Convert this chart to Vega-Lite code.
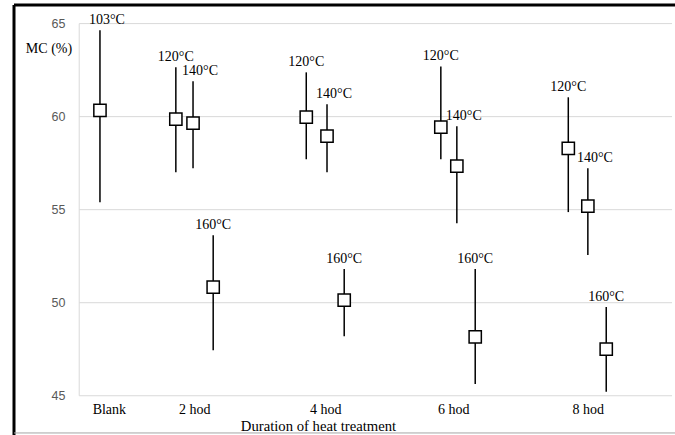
{
  "$schema": "https://vega.github.io/schema/vega-lite/v6.json",
  "width": 661,
  "height": 430,
  "autosize": {"type": "none"},
  "padding": {"left": 14, "top": 5, "right": 0, "bottom": 0},
  "background": "white",
  "config": {"view": {"stroke": null}},
  "datasets": {
    "mc": [
      {"duration": "Blank", "temp": "103°C", "pos": 0.35, "mean": 60.34, "lo": 55.40, "hi": 64.64},
      {"duration": "2 hod", "temp": "120°C", "pos": 1.63, "mean": 59.86, "lo": 57.01, "hi": 62.65},
      {"duration": "2 hod", "temp": "140°C", "pos": 1.92, "mean": 59.65, "lo": 57.23, "hi": 61.90},
      {"duration": "2 hod", "temp": "160°C", "pos": 2.26, "mean": 50.84, "lo": 47.45, "hi": 53.63},
      {"duration": "4 hod", "temp": "120°C", "pos": 3.83, "mean": 59.97, "lo": 57.71, "hi": 62.38},
      {"duration": "4 hod", "temp": "140°C", "pos": 4.18, "mean": 58.95, "lo": 57.01, "hi": 60.67},
      {"duration": "4 hod", "temp": "160°C", "pos": 4.47, "mean": 50.14, "lo": 48.20, "hi": 51.81},
      {"duration": "6 hod", "temp": "120°C", "pos": 6.10, "mean": 59.43, "lo": 57.71, "hi": 62.70},
      {"duration": "6 hod", "temp": "140°C", "pos": 6.37, "mean": 57.34, "lo": 54.27, "hi": 59.48},
      {"duration": "6 hod", "temp": "160°C", "pos": 6.68, "mean": 48.16, "lo": 45.63, "hi": 51.81},
      {"duration": "8 hod", "temp": "120°C", "pos": 8.25, "mean": 58.30, "lo": 54.87, "hi": 61.04},
      {"duration": "8 hod", "temp": "140°C", "pos": 8.58, "mean": 55.19, "lo": 52.56, "hi": 57.23},
      {"duration": "8 hod", "temp": "160°C", "pos": 8.89, "mean": 47.51, "lo": 45.21, "hi": 49.77}
    ],
    "grid": [{"g": 45}, {"g": 50}, {"g": 55}, {"g": 60}, {"g": 65}]
  },
  "layer": [
    {
      "data": {"name": "grid"},
      "mark": {"type": "rule", "color": "#d9d9d9", "strokeWidth": 1},
      "encoding": {
        "y": {
          "field": "g", "type": "quantitative",
          "scale": {"domain": [42.89, 66], "nice": false, "zero": false},
          "axis": {
            "orient": "left", "offset": -65,
            "values": [45, 50, 55, 60, 65],
            "domain": false, "ticks": false, "grid": false,
            "labelPadding": 14,
            "labelFont": "Liberation Sans", "labelFontSize": 12.5, "labelColor": "#595959",
            "title": "MC (%)", "titleAngle": 0,
            "titleFont": "Liberation Serif", "titleFontSize": 14, "titleFontWeight": "normal", "titleColor": "black",
            "titleX": -30.5, "titleY": 43, "titleAlign": "center", "titleBaseline": "middle"
          }
        },
        "x": {
          "datum": 0, "type": "quantitative",
          "scale": {"domain": [-1.1, 10.05], "nice": false, "zero": false},
          "axis": {
            "orient": "bottom", "offset": -39,
            "values": [0.5, 1.94, 4.15, 6.31, 8.58],
            "labelExpr": "datum.value < 1 ? 'Blank' : datum.value < 3 ? '2 hod' : datum.value < 5 ? '4 hod' : datum.value < 7 ? '6 hod' : '8 hod'",
            "domain": false, "ticks": false, "grid": false,
            "labelFlush": false, "labelOverlap": false,
            "labelFont": "Liberation Serif", "labelFontSize": 14, "labelColor": "black",
            "labelPadding": 6,
            "title": "Duration of heat treatment",
            "titleFont": "Liberation Serif", "titleFontSize": 14.7, "titleFontWeight": "normal", "titleColor": "black",
            "titleX": 304, "titleY": 34, "titleAlign": "center", "titleBaseline": "alphabetic"
          }
        },
        "x2": {"datum": 10}
      }
    },
    {
      "data": {"values": [{}]},
      "mark": {"type": "rule", "color": "#d9d9d9", "strokeWidth": 1},
      "encoding": {
        "x": {"datum": 0, "type": "quantitative"},
        "y": {"datum": 45, "type": "quantitative"},
        "y2": {"datum": 65}
      }
    },
    {
      "data": {"values": [{}]},
      "mark": {"type": "rule", "color": "black", "strokeWidth": 3},
      "encoding": {
        "y": {"datum": 66, "type": "quantitative"},
        "x": {"datum": -1.1, "type": "quantitative"},
        "x2": {"datum": 10.05}
      }
    },
    {
      "data": {"values": [{}]},
      "mark": {"type": "rule", "color": "black", "strokeWidth": 3},
      "encoding": {
        "x": {"datum": -1.1, "type": "quantitative"},
        "y": {"datum": 42.89, "type": "quantitative"},
        "y2": {"datum": 66}
      }
    },
    {
      "data": {"values": [{}]},
      "mark": {"type": "rule", "color": "#a6a6a6", "strokeWidth": 1},
      "encoding": {
        "y": {"datum": 43, "type": "quantitative"},
        "x": {"datum": -1.1, "type": "quantitative"},
        "x2": {"datum": 10.05}
      }
    },
    {
      "data": {"name": "mc"},
      "mark": {"type": "rule", "color": "black", "strokeWidth": 1.5},
      "encoding": {
        "x": {"field": "pos", "type": "quantitative"},
        "y": {"field": "lo", "type": "quantitative"},
        "y2": {"field": "hi"}
      }
    },
    {
      "data": {"name": "mc"},
      "mark": {"type": "point", "shape": "square", "filled": true, "fill": "white", "stroke": "black", "strokeWidth": 1.5, "size": 150, "opacity": 1},
      "encoding": {
        "x": {"field": "pos", "type": "quantitative"},
        "y": {"field": "mean", "type": "quantitative"}
      }
    },
    {
      "data": {"name": "mc"},
      "transform": [{"filter": "datum.temp == '120°C' || datum.temp == '160°C'"}],
      "mark": {"type": "text", "font": "Liberation Serif", "fontSize": 14, "color": "black", "align": "center", "baseline": "alphabetic", "dy": -6},
      "encoding": {
        "x": {"field": "pos", "type": "quantitative"},
        "y": {"field": "hi", "type": "quantitative"},
        "text": {"field": "temp"}
      }
    },
    {
      "data": {"name": "mc"},
      "transform": [{"filter": "datum.temp == '103°C' || datum.temp == '140°C'"}],
      "mark": {"type": "text", "font": "Liberation Serif", "fontSize": 14, "color": "black", "align": "center", "baseline": "alphabetic", "dy": -6, "dx": 7},
      "encoding": {
        "x": {"field": "pos", "type": "quantitative"},
        "y": {"field": "hi", "type": "quantitative"},
        "text": {"field": "temp"}
      }
    }
  ]
}
